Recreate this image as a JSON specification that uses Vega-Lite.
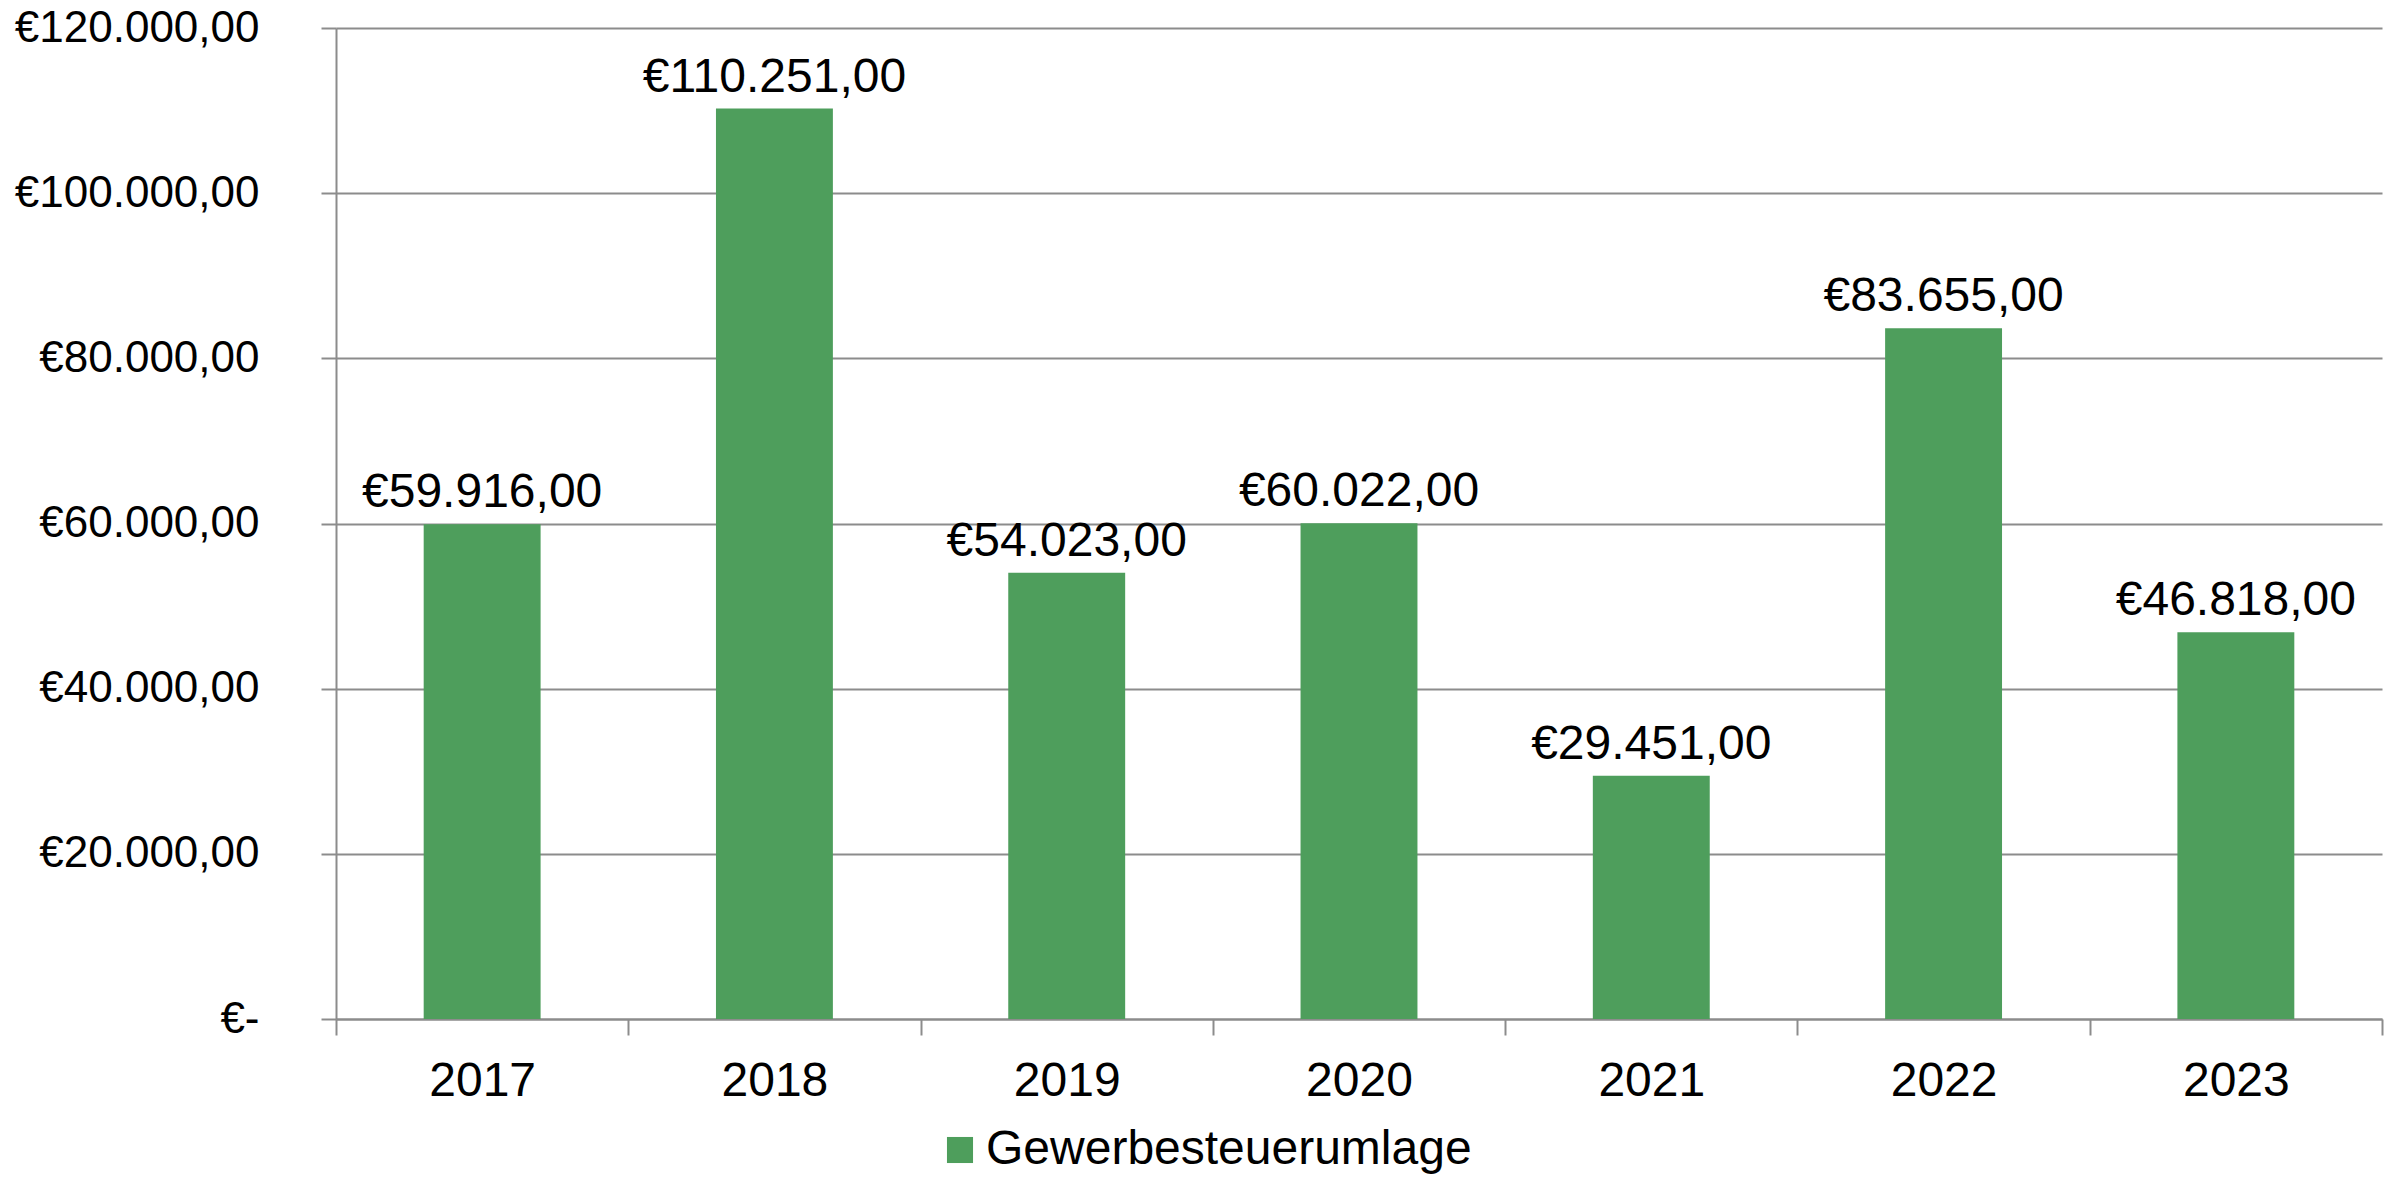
{
  "$schema": "https://vega.github.io/schema/vega-lite/v6.json",
  "autosize": "none",
  "width": 2046,
  "height": 991,
  "padding": {"left": 336, "top": 28, "right": 20, "bottom": 161},
  "background": "white",
  "config": {
    "locale": {"number": {"decimal": ",", "thousands": ".", "grouping": [3], "currency": ["€", ""]}},
    "font": "Liberation Sans",
    "view": {"stroke": null}
  },
  "data": {
    "values": [
      {"year": "2017", "value": 59916, "series": "Gewerbesteuerumlage"},
      {"year": "2018", "value": 110251, "series": "Gewerbesteuerumlage"},
      {"year": "2019", "value": 54023, "series": "Gewerbesteuerumlage"},
      {"year": "2020", "value": 60022, "series": "Gewerbesteuerumlage"},
      {"year": "2021", "value": 29451, "series": "Gewerbesteuerumlage"},
      {"year": "2022", "value": 83655, "series": "Gewerbesteuerumlage"},
      {"year": "2023", "value": 46818, "series": "Gewerbesteuerumlage"}
    ]
  },
  "encoding": {
    "x": {
      "field": "year", "type": "nominal", "title": null,
      "scale": {"paddingInner": 0, "paddingOuter": 0},
      "axis": {
        "labelAngle": 0, "labelFontSize": 48, "labelColor": "#000000",
        "tickBand": "extent", "tickSize": 16, "tickWidth": 2, "tickColor": "#8c8c8c",
        "domainColor": "#8c8c8c", "domainWidth": 2, "labelPadding": 22
      }
    },
    "y": {
      "field": "value", "type": "quantitative", "title": null,
      "scale": {"domain": [0, 120000], "nice": false},
      "axis": {
        "values": [0, 20000, 40000, 60000, 80000, 100000, 120000],
        "format": "$,.2f",
        "labelExpr": "datum.value == 0 ? '€-' : datum.label",
        "labelFontSize": 44, "labelColor": "#000000", "labelPadding": 62, "labelLimit": 0,
        "tickSize": 15, "tickWidth": 2, "tickColor": "#8c8c8c",
        "gridColor": "#8c8c8c", "gridWidth": 2,
        "domainColor": "#8c8c8c", "domainWidth": 2
      }
    }
  },
  "layer": [
    {
      "mark": {"type": "bar", "width": {"band": 0.4}},
      "encoding": {
        "color": {
          "field": "series", "type": "nominal",
          "scale": {"range": ["#4E9E5C"]},
          "legend": {
            "title": null, "orient": "none", "legendX": 600, "legendY": 1098,
            "labelFontSize": 48, "labelColor": "#000000", "labelLimit": 0,
            "symbolType": "square", "symbolSize": 680, "symbolStrokeWidth": 0,
            "labelOffset": 2
          }
        }
      }
    },
    {
      "mark": {"type": "text", "baseline": "alphabetic", "dy": -17, "fontSize": 48, "color": "#000000"},
      "encoding": {
        "text": {"field": "value", "type": "quantitative", "format": "$,.2f"}
      }
    }
  ]
}
